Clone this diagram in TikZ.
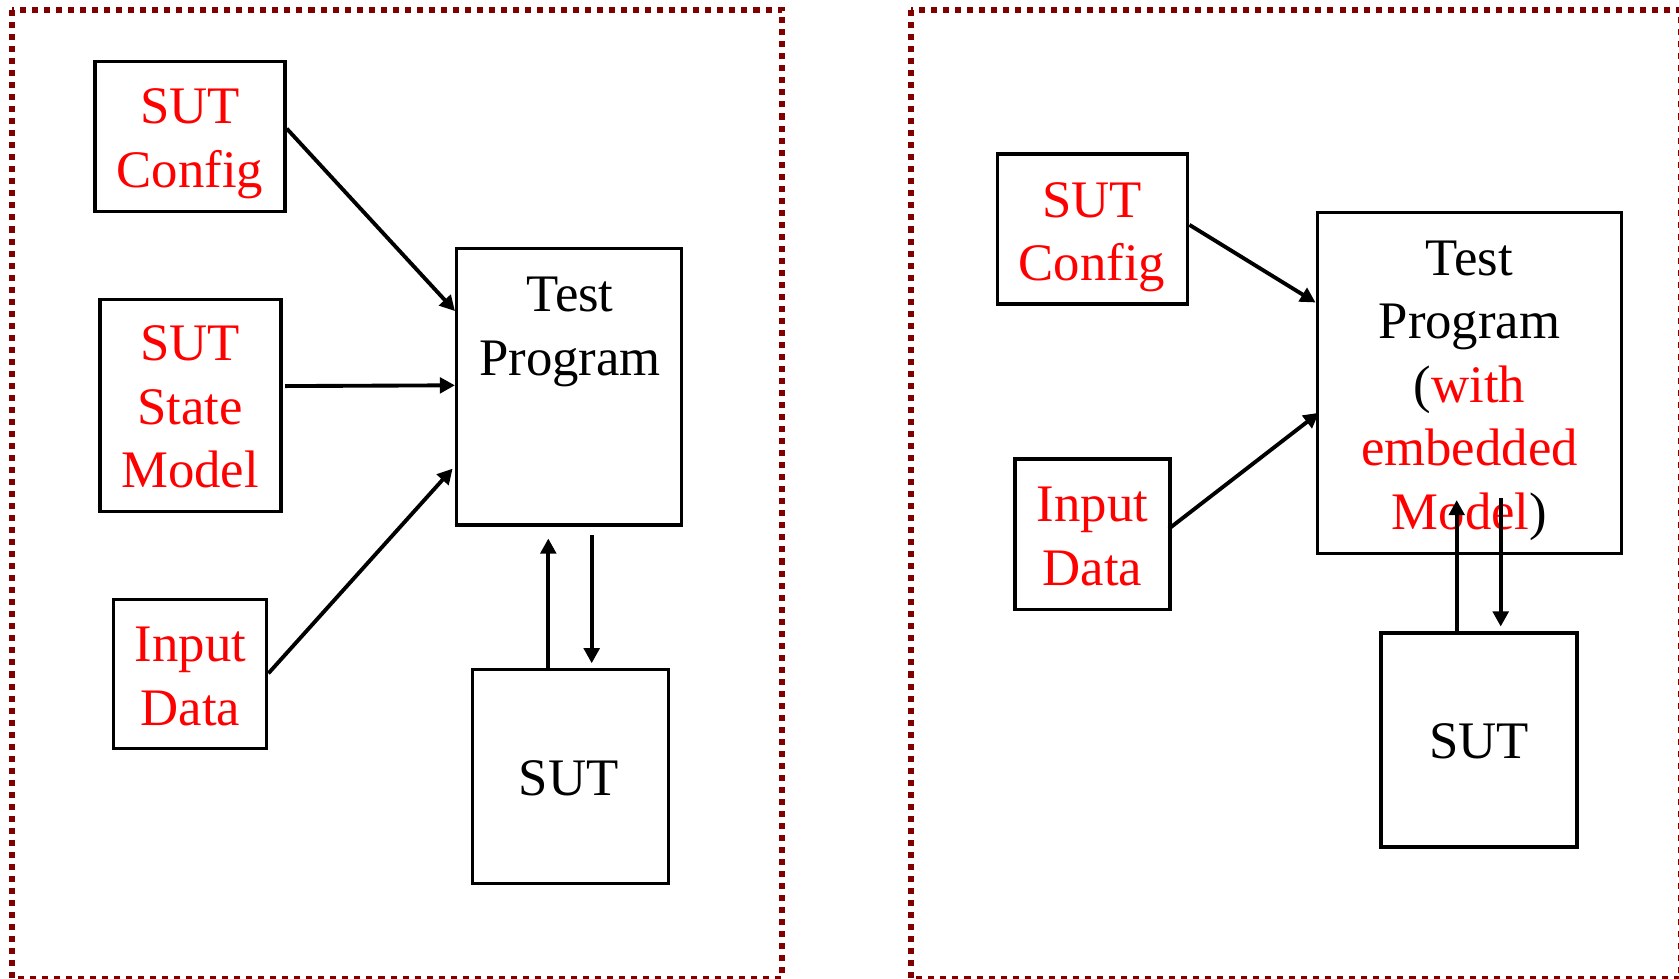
\documentclass[tikz,border=0pt]{standalone}
\usepackage{fontspec}
\setmainfont{Liberation Serif}
\usetikzlibrary{arrows.meta,calc}

\definecolor{framered}{RGB}{128,0,0}
\definecolor{txtred}{RGB}{255,0,0}

\tikzset{
  frame/.style={draw=framered, line width=1.71pt, dash pattern=on 1.71pt off 1.71pt},
  box/.style={draw=black, line width=0.95pt, inner sep=0pt, rectangle},
  lbl/.style={anchor=north, inner sep=0pt, align=center,
              font=\fontsize{15}{18.07}\selectfont},
  redlbl/.style={lbl, text=txtred},
  arr/.style={draw=black, line width=1.1pt, -{Triangle[length=4.3pt,width=4.4pt]}}
}

\begin{document}
\begin{tikzpicture}[x=0.01cm, y=-0.01cm]
\useasboundingbox (0,0) rectangle (1679,978);

% the two dotted panels
\draw[frame] (12,10) rectangle (782.3,978.5);
\draw[frame] (910.7,10) rectangle (1681,978.5);

% ---------- left panel ----------
\node[box, minimum width=1.90cm,  minimum height=1.50cm]  (lcfg)   at (190,136.7) {};
\node[box, minimum width=1.81cm,  minimum height=2.124cm] (lstate) at (190.5,405.5) {};
\node[box, minimum width=1.534cm, minimum height=1.49cm]  (linput) at (190,673.8) {};
\node[box, minimum width=2.25cm,  minimum height=2.767cm] (ltp)    at (569.2,386.7) {};
\node[box, minimum width=1.956cm, minimum height=2.14cm]  (lsut)   at (570.5,776.3) {};

\node[redlbl] (lcfgt)   at (190,88)    {SUT\\Config};
\node[redlbl] (lstatet) at (190,325)   {SUT\\State\\Model};
\node[redlbl] (linputt) at (190.5,626.7) {Input\\Data};
\node[lbl]    (ltpt)    at (570,276.7) {Test\\Program};
\node[lbl]    (lsutt)   at (568.5,760) {SUT};

\draw[arr] ($(lcfg.north east)!0.447!(lcfg.south east)$)
        -- ($(ltp.north west)!0.23!(ltp.south west)$);
\draw[arr, shorten <=0.65pt] ($(lstate.north east)!0.41!(lstate.south east)$)
        -- ($(ltp.north west)!0.495!(ltp.south west)$);
\draw[arr, shorten >=1pt] ($(linput.north east)!0.497!(linput.south east)$)
        -- ($(ltp.north west)!0.783!(ltp.south west)$);
\draw[arr] ($(lsut.north)+(-22.2,0)$) -- ($(ltp.south)+(-20.9,11.7)$);
\draw[arr] ($(ltp.south)+(22.5,8)$) -- ($(lsut.north)+(21.2,-4.3)$);

% ---------- right panel ----------
\node[box, minimum width=1.904cm, minimum height=1.50cm]  (rcfg)   at (1092.5,229) {};
\node[box, minimum width=1.55cm,  minimum height=1.503cm] (rinput) at (1092.5,534.2) {};
\node[box, minimum width=3.044cm, minimum height=3.406cm] (rtp)    at (1469.5,383) {};
\node[box, minimum width=1.96cm,  minimum height=2.14cm]  (rsut)   at (1479,740) {};

\node[redlbl] (rcfgt)   at (1092,181.7)  {SUT\\Config};
\node[redlbl] (rinputt) at (1092.5,486.7) {Input\\Data};
\node[lbl]    (rtpt)    at (1469.5,240)  {Test\\Program\\(\textcolor{txtred}{with}\\
  \textcolor{txtred}{embedded}\\\textcolor{txtred}{Model})};
\node[lbl]    (rsutt)   at (1479,723)    {SUT};

\draw[arr] ($(rcfg.north east)!0.473!(rcfg.south east)$)
        -- ($(rtp.north west)!0.266!(rtp.south west)$);
\draw[arr, shorten <=-1pt, shorten >=-1.2pt] ($(rinput.north east)!0.45!(rinput.south east)$)
        -- ($(rtp.north west)!0.594!(rtp.south west)$);
\draw[arr] ($(rsut.north)+(-22.3,0)$) -- ($(rtp.south)+(-12.8,-55)$);
\draw[arr] ($(rtp.south)+(31.2,-56.6)$) -- ($(rsut.north)+(21.7,-4.7)$);
\end{tikzpicture}
\end{document}
